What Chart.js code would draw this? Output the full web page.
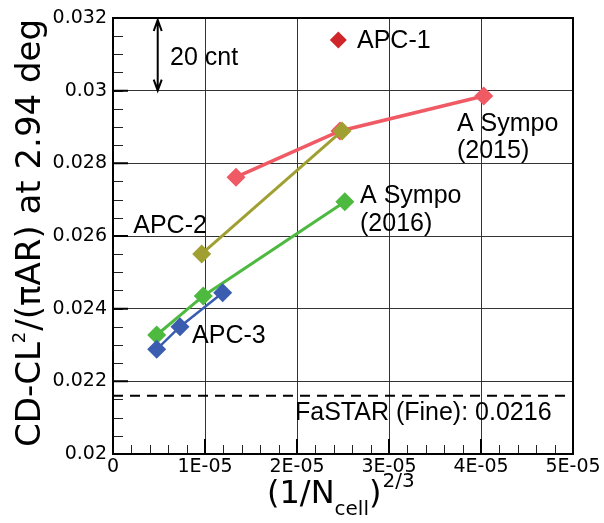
<!DOCTYPE html>
<html>
<head>
<meta charset="utf-8">
<script src="https://cdn.jsdelivr.net/npm/chart.js@4/dist/chart.umd.min.js"></script>
<style>
  html, body { margin: 0; padding: 0; background: #fff; }
  #wrap { width: 604px; height: 523px; }
</style>
</head>
<body>
<div id="wrap"><canvas id="chart" width="604" height="523"></canvas></div>
<script>
// grid resolution study values
const sympo2015X = [1.337e-5, 2.467e-5, 4.03e-5];
const sympo2015Y = [0.02762, 0.02889, 0.029855];
const apc2X = [0.964e-5, 2.49e-5];
const apc2Y = [0.025505, 0.02889];
const sympo2016X = [0.475e-5, 0.981e-5, 2.52e-5];
const sympo2016Y = [0.023275, 0.02435, 0.026944];
const apc3X = [0.475e-5, 0.728e-5, 1.192e-5];
const apc3Y = [0.022882, 0.023504, 0.02444];
const apc1Label = 'APC-1';
const fastarValue = 0.0216;

const xTickValues = [0, 1e-5, 2e-5, 3e-5, 4e-5, 5e-5];
const xTickLabels = ['0', '1E-05', '2E-05', '3E-05', '4E-05', '5E-05'];
const yTickValues = [0.02, 0.022, 0.024, 0.026, 0.028, 0.03, 0.032];
const yTickLabels = ['0.02', '0.022', '0.024', '0.026', '0.028', '0.03', '0.032'];

const toPoints = (xs, ys) => xs.map((x, i) => ({ x, y: ys[i] }));

const tickFont = { family: 'DejaVu Sans', size: 19 };
const noteFont = '25px "Liberation Sans", Arial, sans-serif';

function series(label, xs, ys, color, width, order) {
  return {
    label,
    data: toPoints(xs, ys),
    showLine: true,
    borderColor: color,
    backgroundColor: color,
    borderWidth: width,
    pointStyle: 'rectRot',
    pointRadius: 9.5,
    pointBorderWidth: 0,
    order
  };
}

// axis titles, annotations, minor ticks and frame
const decor = {
  id: 'decor',
  afterDatasetsDraw(chart) {
    const { ctx, chartArea: a, scales } = chart;
    const x = scales.x, y = scales.y;
    ctx.save();

    // minor ticks (inward)
    ctx.strokeStyle = '#222';
    ctx.lineWidth = 1;
    ctx.beginPath();
    for (let v = 0.02; v <= 0.0320001; v += 0.0005) {
      const py = Math.round(y.getPixelForValue(v)) + 0.5;
      ctx.moveTo(a.left, py);
      ctx.lineTo(a.left + 10, py);
    }
    for (let v = 0; v <= 5.00001e-5; v += 2e-6) {
      const px = Math.round(x.getPixelForValue(v)) + 0.5;
      ctx.moveTo(px, a.bottom);
      ctx.lineTo(px, a.bottom - 9);
    }
    ctx.stroke();
    // major ticks
    ctx.lineWidth = 2;
    ctx.strokeStyle = '#000';
    ctx.beginPath();
    yTickValues.forEach(v => {
      const py = y.getPixelForValue(v);
      ctx.moveTo(a.left, py);
      ctx.lineTo(a.left + 15, py);
    });
    xTickValues.forEach(v => {
      const px = x.getPixelForValue(v);
      ctx.moveTo(px, a.bottom);
      ctx.lineTo(px, a.bottom - 15);
    });
    ctx.stroke();

    // frame
    ctx.lineWidth = 2;
    ctx.strokeRect(a.left, a.top, a.right - a.left, a.bottom - a.top);

    // 20 cnt arrow
    const ax = x.getPixelForValue(0.486e-5);
    const aTop = y.getPixelForValue(0.032) + 2;
    const aBot = y.getPixelForValue(0.030);
    ctx.lineWidth = 2;
    ctx.beginPath();
    ctx.moveTo(ax, aTop);
    ctx.lineTo(ax, aBot);
    ctx.moveTo(ax - 4, aTop + 11);
    ctx.lineTo(ax, aTop);
    ctx.lineTo(ax + 4, aTop + 11);
    ctx.moveTo(ax - 4, aBot - 11);
    ctx.lineTo(ax, aBot);
    ctx.lineTo(ax + 4, aBot - 11);
    ctx.stroke();

    // APC-1 marker
    const mx = x.getPixelForValue(2.449e-5), my = y.getPixelForValue(0.031395);
    ctx.fillStyle = '#d0252a';
    ctx.beginPath();
    ctx.moveTo(mx, my - 8.5);
    ctx.lineTo(mx + 8.5, my);
    ctx.lineTo(mx, my + 8.5);
    ctx.lineTo(mx - 8.5, my);
    ctx.closePath();
    ctx.fill();

    // annotation text
    ctx.fillStyle = '#000';
    ctx.font = noteFont;
    ctx.textAlign = 'left';
    ctx.textBaseline = 'middle';
    const notes = [
      ['20 cnt', 0.62e-5, 0.030927],
      [apc1Label, 2.652e-5, 0.031395],
      ['A Sympo', 3.739e-5, 0.029111],
      ['(2015)', 3.739e-5, 0.028368],
      ['A Sympo', 2.685e-5, 0.027129],
      ['(2016)', 2.685e-5, 0.026358],
      ['APC-2', 0.22e-5, 0.026303],
      ['APC-3', 0.859e-5, 0.023275],
      ['FaSTAR (Fine): ' + fastarValue, 1.978e-5, 0.021156]
    ];
    notes.forEach(([t, vx, vy]) => {
      ctx.fillText(t, x.getPixelForValue(vx), y.getPixelForValue(vy) + 1);
    });

    // x axis title: (1/N_cell)^(2/3)
    ctx.textBaseline = 'alphabetic';
    let px = 267;
    ctx.font = '32px "DejaVu Sans"';
    ctx.fillText('(1/N', px, 503);
    px += ctx.measureText('(1/N').width;
    ctx.font = '20px "DejaVu Sans"';
    ctx.fillText('cell', px, 515);
    px += ctx.measureText('cell').width;
    ctx.font = '32px "DejaVu Sans"';
    ctx.fillText(')', px, 503);
    px += ctx.measureText(')').width;
    ctx.font = '20px "DejaVu Sans"';
    ctx.fillText('2/3', px + 1, 487);

    // y axis title: CD-CL^2/(πAR) at 2.94 deg
    ctx.translate(40, 447);
    ctx.rotate(-Math.PI / 2);
    let py = 0;
    ctx.font = '34px "DejaVu Sans"';
    ctx.fillText('CD-CL', py, 0);
    py += ctx.measureText('CD-CL').width;
    ctx.font = '18px "DejaVu Sans"';
    ctx.fillText('2', py - 1, -15);
    py += ctx.measureText('2').width;
    ctx.font = '34px "DejaVu Sans"';
    ctx.fillText('/(\u03c0AR) at 2.94 deg', py, 0);

    ctx.restore();
  }
};

new Chart(document.getElementById('chart'), {
  type: 'scatter',
  data: {
    datasets: [
      series('A Sympo (2015)', sympo2015X, sympo2015Y, '#f05a64', 3.5, 3),
      series('APC-2', apc2X, apc2Y, '#a0a032', 3, 2),
      series('A Sympo (2016)', sympo2016X, sympo2016Y, '#4dba3f', 3, 1),
      series('APC-3', apc3X, apc3Y, '#3a5db0', 2.5, 0),
      {
        label: 'FaSTAR (Fine)',
        data: [{ x: 0, y: fastarValue }, { x: 5e-5, y: fastarValue }],
        showLine: true,
        borderColor: '#000',
        borderWidth: 2,
        borderDash: [10, 7],
        pointRadius: 0,
        order: 4
      }
    ]
  },
  options: {
    responsive: false,
    animation: false,
    layout: { padding: { top: 18, right: 31, left: 0, bottom: 0 } },
    plugins: { legend: { display: false }, tooltip: { enabled: false } },
    scales: {
      x: {
        type: 'linear',
        min: 0,
        max: 5e-5,
        afterBuildTicks: s => { s.ticks = xTickValues.map(value => ({ value })); },
        afterFit: s => { s.height = 69; },
        ticks: {
          font: tickFont,
          color: '#000',
          padding: 2,
          maxRotation: 0,
          callback: (v) => xTickLabels[xTickValues.indexOf(v)]
        },
        grid: { color: '#333', lineWidth: 1, drawTicks: false },
        border: { display: false }
      },
      y: {
        type: 'linear',
        min: 0.02,
        max: 0.032,
        afterBuildTicks: s => { s.ticks = yTickValues.map(value => ({ value })); },
        afterFit: s => { s.width = 113; },
        ticks: {
          font: tickFont,
          color: '#000',
          padding: 6,
          callback: (v) => yTickLabels[yTickValues.indexOf(v)]
        },
        grid: { color: '#333', lineWidth: 1, drawTicks: false },
        border: { display: false }
      }
    }
  },
  plugins: [decor]
});
</script>
</body>
</html>
